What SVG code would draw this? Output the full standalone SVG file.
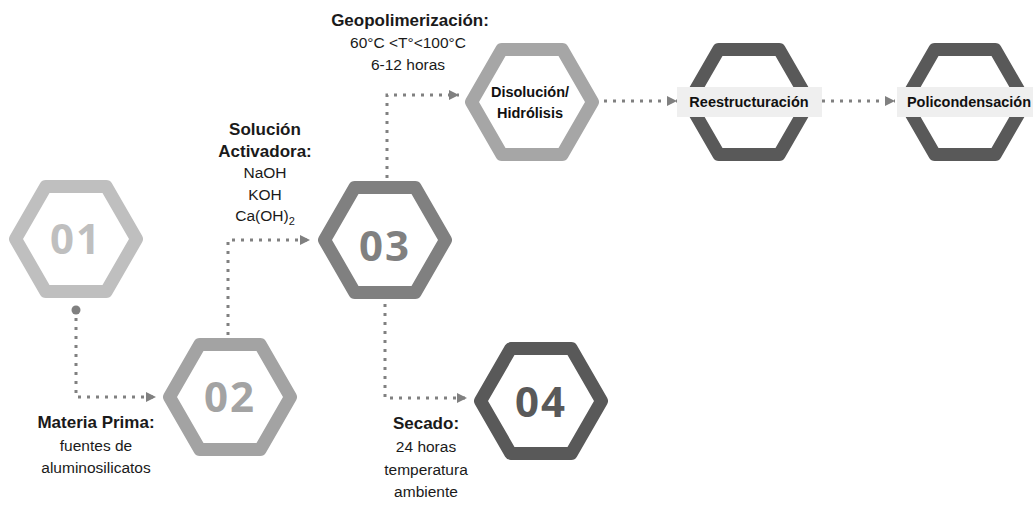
<svg xmlns="http://www.w3.org/2000/svg" xmlns:xlink="http://www.w3.org/1999/xlink" width="1033" height="506" viewBox="0 0 1033 506">
<style>
.hex{fill:#fff;stroke-width:13;stroke-linejoin:round}
.num{font-family:"Open Sans","Liberation Sans",sans-serif;font-weight:700;font-size:42px;text-anchor:middle;letter-spacing:2px}
.lbl{font-family:"Liberation Sans",Arial,sans-serif;font-size:15.5px;fill:#1a1a1a;text-anchor:middle}
.b{font-weight:700;font-size:17px}
.box{font-family:"Liberation Sans",Arial,sans-serif;font-size:14.5px;font-weight:700;fill:#111;text-anchor:middle}
.con{fill:none;stroke:#808080;stroke-width:3;stroke-dasharray:3 6}
</style>
<defs>
<polygon id="hx" points="-60.5,0 -30.25,-52.4 30.25,-52.4 60.5,0 30.25,52.4 -30.25,52.4"/>
<marker id="ar" viewBox="0 0 10 10" refX="10" refY="5" markerWidth="10" markerHeight="10" markerUnits="userSpaceOnUse" orient="auto">
<path d="M0,0 L10,5 L0,10 z" fill="#808080"/>
</marker>
</defs>
<rect width="1033" height="506" fill="#fff"/>

<g id="n01">
<use xlink:href="#hx" x="76" y="239" class="hex" stroke="#bfbfbf"/>
<text x="76" y="254" class="num" fill="#bfbfbf">01</text>
</g>
<g id="n02">
<use xlink:href="#hx" x="230" y="397" class="hex" stroke="#a3a3a3"/>
<text x="230" y="412" class="num" fill="#a3a3a3">02</text>
</g>
<g id="n03">
<use xlink:href="#hx" x="385" y="240" class="hex" stroke="#808080"/>
<text x="385" y="261" class="num" fill="#808080">03</text>
</g>
<g id="n04">
<use xlink:href="#hx" x="541" y="401" class="hex" stroke="#595959"/>
<text x="541" y="417" class="num" fill="#595959">04</text>
</g>
<g id="disolucion">
<use xlink:href="#hx" x="532" y="102" class="hex" stroke="#a6a6a6"/>
<text x="530" y="97" class="box">Disolución/</text>
<text x="530" y="118" class="box">Hidrólisis</text>
</g>
<g id="reestructuracion">
<use xlink:href="#hx" x="749" y="102" class="hex" stroke="#595959"/>
<rect x="677" y="87" width="145" height="30" fill="#efefef"/>
<text x="749" y="107" class="box">Reestructuración</text>
</g>
<g id="policondensacion">
<use xlink:href="#hx" x="965" y="102" class="hex" stroke="#595959"/>
<rect x="897" y="87" width="136" height="30" fill="#efefef"/>
<text x="969" y="107" class="box">Policondensación</text>
</g>

<g id="connectors">
<circle cx="76" cy="310" r="4.5" fill="#808080"/>
<path class="con" d="M76,318 V397 H156" marker-end="url(#ar)"/>
<path class="con" d="M228,335 V240 H310" marker-end="url(#ar)"/>
<path class="con" d="M387,178 V95 H459" marker-end="url(#ar)"/>
<path class="con" d="M385,304 V398 H467" marker-end="url(#ar)"/>
<path class="con" d="M604,101 H677" marker-end="url(#ar)"/>
<path class="con" d="M822,101 H895" marker-end="url(#ar)"/>
</g>

<g id="labels">
<text class="lbl b" x="410" y="26">Geopolimerización:</text>
<text class="lbl" x="408" y="48">60°C &lt;T°&lt;100°C</text>
<text class="lbl" x="408" y="70">6-12 horas</text>

<text class="lbl b" x="265" y="135">Solución</text>
<text class="lbl b" x="265" y="157">Activadora:</text>
<text class="lbl" x="265" y="178">NaOH</text>
<text class="lbl" x="265" y="200">KOH</text>
<text class="lbl" x="265" y="221">Ca(OH)<tspan font-size="11" dy="4">2</tspan></text>

<text class="lbl b" x="96" y="428">Materia Prima:</text>
<text class="lbl" x="96" y="451">fuentes de</text>
<text class="lbl" x="96" y="473">aluminosilicatos</text>

<text class="lbl b" x="426" y="429">Secado:</text>
<text class="lbl" x="426" y="452">24 horas</text>
<text class="lbl" x="426" y="475">temperatura</text>
<text class="lbl" x="426" y="497">ambiente</text>
</g>
</svg>
